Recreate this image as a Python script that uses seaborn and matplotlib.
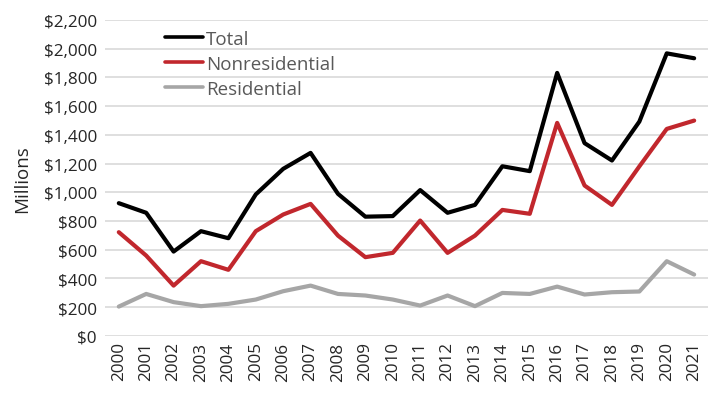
import matplotlib
matplotlib.use("Agg")
import matplotlib.pyplot as plt
import seaborn as sns
import pandas as pd

years = [str(y) for y in range(2000, 2022)]
total = [924, 857, 587, 729, 680, 985, 1163, 1274, 989, 830, 834, 1015,
         857, 912, 1181, 1147, 1831, 1342, 1221, 1492, 1967, 1933]
nonresidential = [722, 559, 350, 520, 460, 729, 845, 919, 698, 548, 578, 803,
                  578, 698, 877, 850, 1483, 1047, 912, 1180, 1441, 1499]
residential = [204, 292, 235, 207, 223, 253, 311, 350, 292, 281, 253, 211,
               281, 207, 299, 292, 343, 288, 304, 309, 520, 427]
series_names = ["Total", "Nonresidential", "Residential"]
series_colors = ["#000000", "#C1272D", "#A6A6A6"]
yticks = list(range(0, 2201, 200))

df = pd.DataFrame({"Year": years, "Total": total,
                   "Nonresidential": nonresidential, "Residential": residential})
long = df.melt(id_vars="Year", var_name="Series", value_name="Value")

sns.set_theme(style="white")
plt.rcParams["font.family"] = ["Open Sans", "DejaVu Sans"]

fig = plt.figure(figsize=(7.15, 4.02), dpi=100)
ax = fig.add_axes([0.147, 0.162, 0.843, 0.786])

sns.lineplot(data=long, x="Year", y="Value", hue="Series",
             hue_order=series_names, palette=series_colors,
             linewidth=3, sort=False, ax=ax)

ax.set_ylim(0, 2200)
ax.set_xlim(-0.5, len(years) - 0.5)
ax.set_yticks(yticks)
ax.set_yticklabels([f"${v:,}" for v in yticks])
ax.yaxis.grid(True, color="#D9D9D9", linewidth=1.2)
ax.xaxis.grid(False)
ax.set_axisbelow(True)
for s in ax.spines.values():
    s.set_visible(False)
ax.tick_params(axis="both", length=0, labelsize=12.3, colors="#262626", pad=6)
ax.tick_params(axis="x", rotation=90, pad=4)
ax.set_xlabel("")
ax.set_ylabel("Millions", fontsize=13.5, color="#262626", labelpad=9)

leg = ax.legend(loc="upper left", bbox_to_anchor=(0.087, 0.993), frameon=False,
                fontsize=13.5, handlelength=2.05, handletextpad=0.12,
                labelspacing=0.38, borderaxespad=0)
for t in leg.get_texts():
    t.set_color("#595959")
for l in leg.get_lines():
    l.set_linewidth(2.6)

fig.savefig("out.png", dpi=100)
